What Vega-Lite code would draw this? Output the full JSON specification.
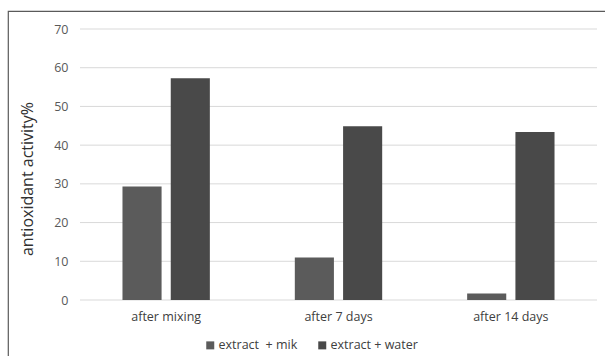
{
  "$schema": "https://vega.github.io/schema/vega-lite/v6.json",
  "width": 598,
  "height": 346,
  "autosize": "none",
  "padding": {"left": 8, "top": 11, "right": 0, "bottom": 0},
  "background": "white",
  "config": {
    "view": {"stroke": "#5a5a5a", "strokeWidth": 1.2},
    "font": "Open Sans"
  },
  "datasets": {
    "bars": [
      {"time": "after mixing", "sample": "extract\u00a0 + mik", "value": 29.3},
      {"time": "after mixing", "sample": "extract + water", "value": 57.3},
      {"time": "after 7 days", "sample": "extract\u00a0 + mik", "value": 11.0},
      {"time": "after 7 days", "sample": "extract + water", "value": 44.9},
      {"time": "after 14 days", "sample": "extract\u00a0 + mik", "value": 1.7},
      {"time": "after 14 days", "sample": "extract + water", "value": 43.4}
    ],
    "grid": [{"v": 0}, {"v": 10}, {"v": 20}, {"v": 30}, {"v": 40}, {"v": 50}, {"v": 60}, {"v": 70}]
  },
  "layer": [
    {
      "data": {"name": "grid"},
      "mark": {"type": "rule", "color": "#d9d9d9", "strokeWidth": 1},
      "encoding": {
        "y": {"field": "v", "type": "quantitative", "title": "antioxidant activity%",
              "scale": {"domain": [0, 70], "range": [289, 18], "nice": false, "zero": true},
              "axis": {"title": "antioxidant activity%", "values": [0, 10, 20, 30, 40, 50, 60, 70],
                       "grid": false, "domain": false, "ticks": false, "offset": -72,
                       "labelPadding": 12, "labelFontSize": 12.5, "labelColor": "#595959",
                       "titleFontSize": 16, "titleFontWeight": "normal", "titleColor": "#303030",
                       "titleX": -45, "titleY": 167.5, "titleBaseline": "bottom", "titleAngle": -90}},
        "x": {"datum": "after mixing", "type": "nominal", "bandPosition": 0, "title": null,
              "scale": {"domain": ["after mixing", "after 7 days", "after 14 days"], "range": [72, 589], "paddingInner": 0, "paddingOuter": 0},
              "axis": {"title": null, "labelAngle": 0, "domain": false, "ticks": false, "grid": false,
                       "labelPadding": 10, "labelFontSize": 12.5, "labelColor": "#404040", "offset": -57}},
        "x2": {"datum": "after 14 days", "bandPosition": 1}
      }
    },
    {
      "data": {"name": "bars"},
      "mark": {"type": "bar"},
      "encoding": {
        "x": {"field": "time", "type": "nominal"},
        "xOffset": {"field": "sample", "type": "nominal", "sort": ["extract\u00a0 + mik", "extract + water"],
                    "scale": {"paddingInner": 0.19, "paddingOuter": 0.88}},
        "y": {"field": "value", "type": "quantitative", "title": "antioxidant activity%"},
        "color": {"field": "sample", "type": "nominal",
                  "scale": {"domain": ["extract\u00a0 + mik", "extract + water"], "range": ["#5b5b5b", "#494949"]},
                  "legend": {"title": null, "orient": "none", "legendX": 196, "legendY": 328, "direction": "horizontal",
                             "symbolType": "square", "symbolSize": 64, "symbolStrokeWidth": 0,
                             "labelFontSize": 12.5, "labelColor": "#404040", "columnPadding": 18, "labelOffset": 2}}
      }
    }
  ]
}
